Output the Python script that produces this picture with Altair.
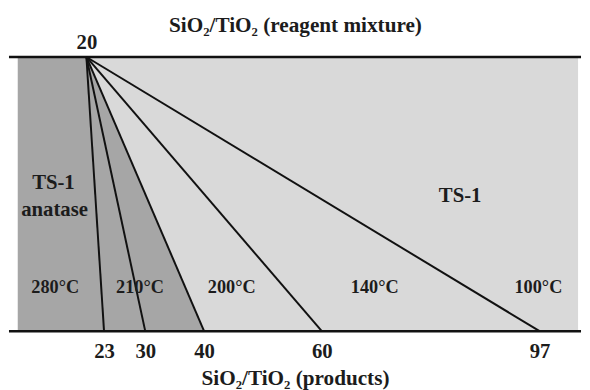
import altair as alt
import pandas as pd

# ---- data ----
apex_ratio = 20                      # SiO2/TiO2 of the reagent mixture
product_ratios = [23, 30, 40, 60, 97]  # SiO2/TiO2 of the products
temp_labels = ["280°C", "210°C", "200°C", "140°C", "100°C"]
temp_x = [14.7, 29.1, 44.7, 69.0, 96.8]
temp_y = [0.14, 0.14, 0.14, 0.14, 0.14]
phase_labels = ["TS-1", "anatase", "TS-1"]
phase_x = [14.4, 14.6, 83.5]
phase_y = [0.518, 0.421, 0.471]
field_left, field_right = 8.35, 103.54   # extent of the shaded field
anatase_limit = 40                       # boundary of the TS-1 + anatase field

X_DOMAIN = [6.85, 104.04]
FONT = "Liberation Serif"
TXT = "#1c1c1c"

xs = alt.Scale(domain=X_DOMAIN, nice=False, zero=False)
ys = alt.Scale(domain=[0, 1], nice=False, zero=False)

bottom_axis = alt.Axis(
    values=product_ratios, domain=False, ticks=False, tickSize=0, grid=False,
    labelFont=FONT, labelFontWeight="bold", labelFontSize=21, labelColor=TXT,
    labelBaseline="alphabetic", labelPadding=27, labelFlush=False,
    title="SiO₂/TiO₂ (products)", titleFont=FONT, titleFontWeight="bold",
    titleFontSize=21.5, titleColor=TXT, titleBaseline="alphabetic", titleY=54,
)
top_axis = alt.Axis(
    orient="top", values=[apex_ratio], domain=False, ticks=False, tickSize=0,
    grid=False, labelFont=FONT, labelFontWeight="bold", labelFontSize=21,
    labelColor=TXT, labelBaseline="alphabetic", labelPadding=9, labelFlush=False,
    title="SiO₂/TiO₂ (reagent mixture)", titleFont=FONT, titleFontWeight="bold",
    titleFontSize=21.5, titleColor=TXT, titleBaseline="alphabetic", titleY=-26,
)

field_df = pd.DataFrame({"x": [field_left], "x2": [field_right], "y": [0], "y2": [1]})
light = alt.Chart(field_df).mark_rect(color="#d9d9d9").encode(
    x=alt.X("x:Q", scale=xs, axis=bottom_axis),
    x2="x2:Q",
    y=alt.Y("y:Q", scale=ys, axis=None),
    y2="y2:Q",
)

dark_df = pd.DataFrame({"x": [field_left, apex_ratio, anatase_limit],
                        "top": [1, 1, 0], "base": [0, 0, 0]})
dark = alt.Chart(dark_df).mark_area(color="#a6a6a6", opacity=1).encode(
    x=alt.X("x:Q", scale=xs, axis=None),
    y=alt.Y("top:Q", scale=ys, axis=None),
    y2="base:Q",
)

hl_df = pd.DataFrame({"y": [0, 1]})
hlines = alt.Chart(hl_df).mark_rule(color="#111111", strokeWidth=2.5).encode(
    y=alt.Y("y:Q", scale=ys, axis=None),
)

diag_df = pd.DataFrame({"apex": [apex_ratio] * len(product_ratios),
                        "prod": product_ratios,
                        "ytop": [1] * len(product_ratios),
                        "ybot": [0] * len(product_ratios)})
diag = alt.Chart(diag_df).mark_rule(color="#111111", strokeWidth=2).encode(
    x=alt.X("apex:Q", scale=xs, axis=top_axis),
    x2="prod:Q",
    y=alt.Y("ytop:Q", scale=ys, axis=None),
    y2="ybot:Q",
)

temp_df = pd.DataFrame({"label": temp_labels, "x": temp_x, "y": temp_y})
temps = alt.Chart(temp_df).mark_text(
    font=FONT, fontWeight="bold", fontSize=18.5, color=TXT,
    align="center", baseline="alphabetic",
).encode(
    x=alt.X("x:Q", scale=xs, axis=None),
    y=alt.Y("y:Q", scale=ys, axis=None),
    text="label:N",
)

phase_df = pd.DataFrame({"label": phase_labels, "x": phase_x, "y": phase_y})
phases = alt.Chart(phase_df).mark_text(
    font=FONT, fontWeight="bold", fontSize=21, color=TXT,
    align="center", baseline="alphabetic",
).encode(
    x=alt.X("x:Q", scale=xs, axis=None),
    y=alt.Y("y:Q", scale=ys, axis=None),
    text="label:N",
)

chart = alt.layer(light, dark, hlines, diag, temps, phases).resolve_axis(
    x="independent"
).properties(
    width=580, height=278,
    autosize=alt.AutoSizeParams(type="none"),
    padding={"left": 1, "right": 1, "top": 47, "bottom": 57},
    background="white",
).configure_view(stroke=None)

chart.save("out.html", embed_options={"renderer": "svg", "actions": False})
